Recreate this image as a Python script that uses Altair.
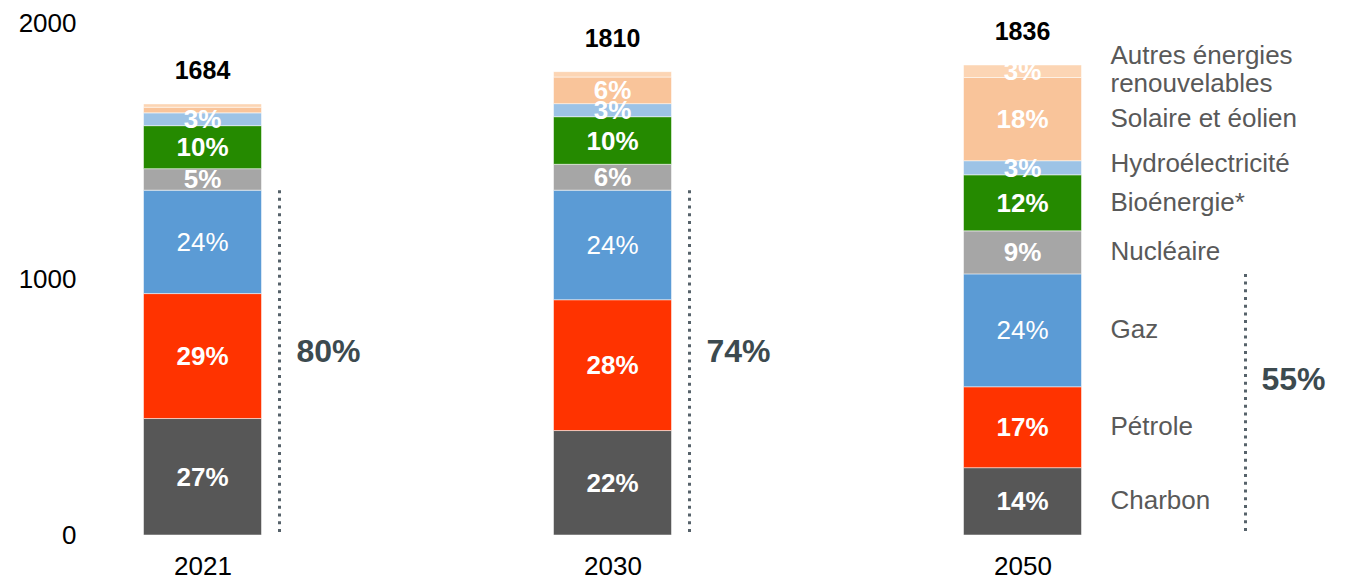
import altair as alt
import pandas as pd

years = ["2021", "2030", "2050"]
categories = ["Charbon", "Pétrole", "Gaz", "Nucléaire", "Bioénergie*",
              "Hydroélectricité", "Solaire et éolien", "Autres énergies\nrenouvelables"]
colors = ["#575757", "#FF3300", "#5B9BD5", "#A6A6A6", "#258A00",
          "#9DC3E6", "#F9C49A", "#FCD5B4"]
values_2021 = [455, 488, 404, 84, 168, 50, 22, 13]
values_2030 = [408, 511, 428, 101, 186, 51, 104, 21]
values_2050 = [263, 316, 441, 168, 219, 55, 325, 49]
labels_2021 = ["27%", "29%", "24%", "5%", "10%", "3%", "", ""]
labels_2030 = ["22%", "28%", "24%", "6%", "10%", "3%", "6%", ""]
labels_2050 = ["14%", "17%", "24%", "9%", "12%", "3%", "18%", "3%"]
totals = [1684, 1810, 1836]
fossil_share = ["80%", "74%", "55%"]

FONT = "Liberation Sans, Arial, sans-serif"

rows = []
for pos, (vals, labs) in enumerate([(values_2021, labels_2021),
                                     (values_2030, labels_2030),
                                     (values_2050, labels_2050)]):
    cum = 0
    for i, (cat, v, lab) in enumerate(zip(categories, vals, labs)):
        rows.append({"pos": pos, "year": years[pos], "cat": cat, "order": i,
                     "y0": cum, "y1": cum + v, "mid": cum + v / 2, "label": lab})
        cum += v
df = pd.DataFrame(rows)

tot_df = pd.DataFrame({"pos": [0, 1, 2], "total": totals, "label": [str(t) for t in totals]})
fossil_top = [sum(v[:3]) for v in (values_2021, values_2030, values_2050)]
fos_df = pd.DataFrame({"pos": [0, 1, 2], "top": fossil_top,
                       "mid": [t / 2 for t in fossil_top], "label": fossil_share})

label_expr = "[" + ",".join("'%s'" % y for y in years) + "][datum.value]"
xscale = alt.Scale(domain=[-0.25, 2.75], nice=False, zero=False)
yscale = alt.Scale(domain=[0, 2000], nice=False)

x_enc = alt.X("pos:Q", scale=xscale,
              axis=alt.Axis(values=[0, 1, 2], labelExpr=label_expr, title=None,
                            grid=False, domain=False, ticks=False, labelFont=FONT,
                            labelFontSize=26, labelColor="#000000", labelPadding=18,
                            labelOverlap=False, labelFlush=False))

base = alt.Chart(df)
X = alt.X("pos:Q", scale=xscale)
Ymid = alt.Y("mid:Q", scale=yscale)

bars = base.mark_bar(size=118, stroke="white", strokeWidth=1, strokeOpacity=0.5).encode(
    x=x_enc,
    y=alt.Y("y0:Q", scale=yscale,
            axis=alt.Axis(values=[0, 1000, 2000], format="d", title=None, grid=False,
                          domain=False, ticks=False, labelFont=FONT, labelFontSize=26,
                          labelColor="#000000", labelPadding=19)),
    y2="y1:Q",
    color=alt.Color("cat:N", scale=alt.Scale(domain=categories, range=colors), legend=None),
)

seg_bold = base.transform_filter("datum.cat != 'Gaz' && datum.label != ''").mark_text(
    font=FONT, fontSize=26, fontWeight="bold", color="white", baseline="middle", dy=1
).encode(x=X, y=Ymid, text="label:N")

seg_norm = base.transform_filter("datum.cat == 'Gaz'").mark_text(
    font=FONT, fontSize=26, color="white", baseline="middle", dy=1
).encode(x=X, y=Ymid, text="label:N")

legend_txt = base.transform_filter(
    "datum.pos == 2 && datum.order < 7 && datum.cat != 'Hydroélectricité'").mark_text(
    font=FONT, fontSize=26, color="#595959", align="left", baseline="middle", dx=88
).encode(x=X, y=Ymid, text="cat:N")

legend_hydro = base.transform_filter(
    "datum.pos == 2 && datum.cat == 'Hydroélectricité'").mark_text(
    font=FONT, fontSize=26, color="#595959", align="left", baseline="middle", dx=88, dy=-4
).encode(x=X, y=Ymid, text="cat:N")

legend_autres = base.transform_filter("datum.pos == 2 && datum.order == 7").mark_text(
    font=FONT, fontSize=26, color="#595959", align="left", baseline="middle",
    dx=88, dy=-15, lineBreak="\n", lineHeight=28
).encode(x=X, y=Ymid, text="cat:N")

tot_txt = alt.Chart(tot_df).mark_text(
    font=FONT, fontSize=25, fontWeight="bold", color="#000000", baseline="alphabetic", dy=-25
).encode(x=X, y=alt.Y("total:Q", scale=yscale), text="label:N")

fos = alt.Chart(fos_df)
rule_a = fos.transform_filter("datum.pos < 2").mark_rule(
    color="#56626A", strokeWidth=3, strokeDash=[3, 4.7], xOffset=77
).encode(x=X, y=alt.Y("top:Q", scale=yscale), y2=alt.datum(0))
rule_b = fos.transform_filter("datum.pos == 2").mark_rule(
    color="#56626A", strokeWidth=3, strokeDash=[3, 4.7], xOffset=223
).encode(x=X, y=alt.Y("top:Q", scale=yscale), y2=alt.datum(0))
fos_a = fos.transform_filter("datum.pos < 2").mark_text(
    font=FONT, fontSize=32, fontWeight="bold", color="#3C4A4F", align="left",
    baseline="middle", dx=94, dy=-11
).encode(x=X, y=Ymid, text="label:N")
fos_b = fos.transform_filter("datum.pos == 2").mark_text(
    font=FONT, fontSize=32, fontWeight="bold", color="#3C4A4F", align="left",
    baseline="middle", dx=239, dy=-24
).encode(x=X, y=Ymid, text="label:N")

chart = alt.layer(bars, seg_bold, seg_norm, legend_txt, legend_hydro, legend_autres,
                  tot_txt, rule_a, rule_b, fos_a, fos_b).properties(
    width=1240, height=512,
    autosize=alt.AutoSizeParams(type="none"),
    padding={"left": 87, "top": 15, "right": 5, "bottom": 44},
).configure_view(stroke=None)

chart.save("out.html", embed_options={"renderer": "svg", "actions": False})
